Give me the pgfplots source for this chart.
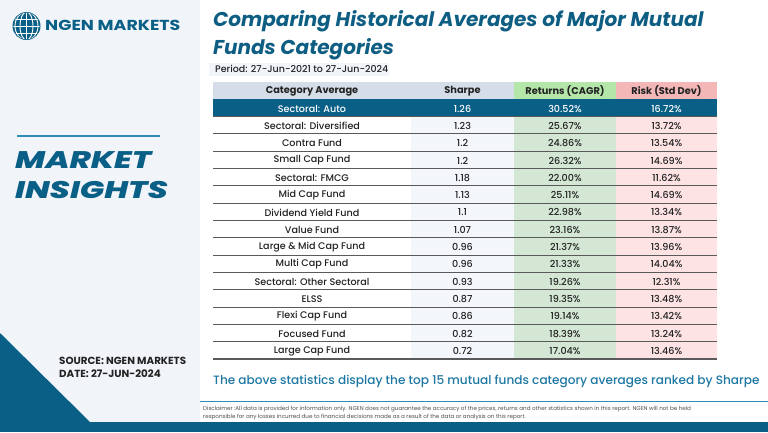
\documentclass[border=0pt]{standalone}
\usepackage{pgfplots}
\pgfplotsset{compat=1.18}
\usepackage{pgfplotstable}
\usepackage{graphicx}
\usepackage{fontspec}
\setmainfont{Poppins}
\newfontfamily\popmed{Poppins Medium}
\newfontfamily\popxb{Poppins ExtraBold Italic}
\definecolor{ngteal}{HTML}{0A5F86}
\definecolor{ngtitle}{HTML}{0E5E84}
\definecolor{ngcap}{HTML}{1E78A3}
\definecolor{ngline}{HTML}{2E8BB5}
\definecolor{leftbg}{HTML}{F1F5FA}
\definecolor{hdrgrey}{HTML}{D5DEE8}
\definecolor{hdrgreen}{HTML}{B4E6AA}
\definecolor{hdrpink}{HTML}{F3B7B8}
\definecolor{colsharpe}{HTML}{F3F6FB}
\definecolor{colret}{HTML}{D3E7D4}
\definecolor{colrisk}{HTML}{FDE3E4}
\definecolor{rowline}{HTML}{5A5A5A}
\definecolor{txt}{HTML}{222222}

\pgfplotstableread[col sep=comma]{
row,cat,sharpe,ret,risk
1,Sectoral: Auto,1.26,30.52,16.72
2,Sectoral: Diversified,1.23,25.67,13.72
3,Contra Fund,1.2,24.86,13.54
4,Small Cap Fund,1.2,26.32,14.69
5,Sectoral: FMCG,1.18,22.00,11.62
6,Mid Cap Fund,1.13,25.11,14.69
7,Dividend Yield Fund,1.1,22.98,13.34
8,Value Fund,1.07,23.16,13.87
9,Large \& Mid Cap Fund,0.96,21.37,13.96
10,Multi Cap Fund,0.96,21.33,14.04
11,Sectoral: Other Sectoral,0.93,19.26,12.31
12,ELSS,0.87,19.35,13.48
13,Flexi Cap Fund,0.86,19.14,13.42
14,Focused Fund,0.82,18.39,13.24
15,Large Cap Fund,0.72,17.04,13.46
}\fundtable

\begin{document}
\begin{tikzpicture}
\begin{axis}[
  at={(0pt,0pt)}, anchor=north west,
  scale only axis, width=768pt, height=432pt,
  xmin=0, xmax=768, ymin=0, ymax=432, y dir=reverse,
  axis lines=none, clip=false,
  every node near coord/.append style={anchor=center, text=txt, font=\popmed\fontsize{9.6}{11}\selectfont},
]
% backgrounds
\fill[white] (axis cs:0,0) rectangle (axis cs:768,432);
\fill[leftbg] (axis cs:0,0) rectangle (axis cs:200,422);
\fill[ngteal] (axis cs:0,333) -- (axis cs:90,422) -- (axis cs:0,422) -- cycle;
\fill[ngteal] (axis cs:0,422) rectangle (axis cs:768,432);
% logo
\fill[ngteal] (axis cs:26.5,26) circle[radius=14];
\begin{scope}
\clip (axis cs:26.5,26) circle[radius=13.2];
\draw[white, line width=0.9pt] (axis cs:26.5,26) ellipse[x radius=6.5, y radius=14];
\draw[white, line width=0.9pt] (axis cs:26.5,10) -- (axis cs:26.5,42);
\draw[white, line width=0.9pt] (axis cs:10,26) -- (axis cs:43,26);
\draw[white, line width=0.9pt] (axis cs:10,19) -- (axis cs:43,19);
\draw[white, line width=0.9pt] (axis cs:10,33) -- (axis cs:43,33);
\draw[white, line width=0.9pt] (axis cs:26.5,26) ellipse[x radius=11.5, y radius=14];
\end{scope}
\node[anchor=base west, inner sep=0pt, text=ngteal, font=\fontsize{14.5}{16}\selectfont\bfseries] at (axis cs:45,30.7) {\scalebox{1.2}[1]{NGEN MARKETS}};
% left panel
\draw[ngline, line width=1.5pt] (axis cs:17,136) -- (axis cs:160,136);
\node[anchor=base west, inner sep=0pt, text=ngteal, font=\popxb\fontsize{24}{28}\selectfont] at (axis cs:15,168.3) {\scalebox{1.34}[1]{MARKET}};
\node[anchor=base west, inner sep=0pt, text=ngteal, font=\popxb\fontsize{24}{28}\selectfont] at (axis cs:15,198.3) {\scalebox{1.34}[1]{INSIGHTS}};
\node[anchor=base west, inner sep=0pt, text=txt, font=\fontsize{10.3}{12}\selectfont\bfseries] at (axis cs:59,364.5) {SOURCE: NGEN MARKETS};
\node[anchor=base west, inner sep=0pt, text=txt, font=\fontsize{10.3}{12}\selectfont\bfseries] at (axis cs:59,377.7) {DATE: 27-JUN-2024};
% title
\node[anchor=base west, inner sep=0pt, text=ngtitle, font=\fontsize{20}{24}\selectfont\bfseries\itshape] at (axis cs:213,26.7) {Comparing Historical Averages of Major Mutual};
\node[anchor=base west, inner sep=0pt, text=ngtitle, font=\fontsize{20}{24}\selectfont\bfseries\itshape] at (axis cs:213,54) {Funds Categories};
\fill[leftbg] (axis cs:209,63) rectangle (axis cs:389,75.5);
\node[anchor=base west, inner sep=0pt, text=txt, font=\popmed\fontsize{9.5}{11}\selectfont] at (axis cs:215,72.5) {Period: 27-Jun-2021 to 27-Jun-2024};
% table backgrounds
\fill[hdrgrey] (axis cs:213,82) rectangle (axis cs:514,99.31);
\fill[hdrgreen] (axis cs:514,82) rectangle (axis cs:616,99.31);
\fill[hdrpink] (axis cs:616,82) rectangle (axis cs:717,99.31);
\fill[colsharpe] (axis cs:411,99.31) rectangle (axis cs:514,359);
\fill[colret] (axis cs:514,99.31) rectangle (axis cs:616,359);
\fill[colrisk] (axis cs:616,99.31) rectangle (axis cs:717,359);
\fill[ngteal] (axis cs:213,99.31) rectangle (axis cs:717,116.63);
\pgfplotsinvokeforeach{2,...,15}{
  \draw[rowline, line width=0.9pt] (axis cs:213,{82+17.3125*#1}) -- (axis cs:717,{82+17.3125*#1});
}
\draw[rowline, line width=0.9pt] (axis cs:213,116.63) -- (axis cs:717,116.63);
\draw[rowline, line width=1.1pt] (axis cs:213,359) -- (axis cs:717,359);
% header
\node[anchor=center, text=txt, font=\fontsize{9.8}{11}\selectfont\bfseries] at (axis cs:312,91.2) {Category Average};
\node[anchor=center, text=txt, font=\fontsize{9.8}{11}\selectfont\bfseries] at (axis cs:462.5,91.2) {Sharpe};
\node[anchor=center, text=txt, font=\fontsize{9.8}{11}\selectfont\bfseries] at (axis cs:565,91.2) {Returns (CAGR)};
\node[anchor=center, text=txt, font=\fontsize{9.8}{11}\selectfont\bfseries] at (axis cs:666.5,91.2) {Risk (Std Dev)};
% data (normal rows)
\addplot[draw=none, mark=none, point meta=explicit symbolic, nodes near coords, skip coords between index={0}{1}]
  table[x expr=312, y expr={82.6+17.3125*(\thisrow{row}+0.5)}, meta=cat]{\fundtable};
\addplot[draw=none, mark=none, point meta=explicit symbolic, nodes near coords, skip coords between index={0}{1}]
  table[x expr=462.5, y expr={82.6+17.3125*(\thisrow{row}+0.5)}, meta=sharpe]{\fundtable};
\addplot[draw=none, mark=none, point meta=explicit symbolic, nodes near coords={\pgfplotspointmeta\%}, skip coords between index={0}{1}]
  table[x expr=565, y expr={82.6+17.3125*(\thisrow{row}+0.5)}, meta=ret]{\fundtable};
\addplot[draw=none, mark=none, point meta=explicit symbolic, nodes near coords={\pgfplotspointmeta\%}, skip coords between index={0}{1}]
  table[x expr=666.5, y expr={82.6+17.3125*(\thisrow{row}+0.5)}, meta=risk]{\fundtable};
% highlighted row
\addplot[draw=none, mark=none, point meta=explicit symbolic, nodes near coords, skip coords between index={1}{15}, every node near coord/.append style={text=white}]
  table[x expr=312, y expr={82.6+17.3125*(\thisrow{row}+0.5)}, meta=cat]{\fundtable};
\addplot[draw=none, mark=none, point meta=explicit symbolic, nodes near coords, skip coords between index={1}{15}, every node near coord/.append style={text=white}]
  table[x expr=462.5, y expr={82.6+17.3125*(\thisrow{row}+0.5)}, meta=sharpe]{\fundtable};
\addplot[draw=none, mark=none, point meta=explicit symbolic, nodes near coords={\pgfplotspointmeta\%}, skip coords between index={1}{15}, every node near coord/.append style={text=white}]
  table[x expr=565, y expr={82.6+17.3125*(\thisrow{row}+0.5)}, meta=ret]{\fundtable};
\addplot[draw=none, mark=none, point meta=explicit symbolic, nodes near coords={\pgfplotspointmeta\%}, skip coords between index={1}{15}, every node near coord/.append style={text=white}]
  table[x expr=666.5, y expr={82.6+17.3125*(\thisrow{row}+0.5)}, meta=risk]{\fundtable};
% caption
\node[anchor=base west, inner sep=0pt, text=ngcap, font=\popmed\fontsize{12.1}{14}\selectfont] at (axis cs:213,384) {The above statistics display the top 15 mutual funds category averages ranked by Sharpe};
% disclaimer
\draw[ngline, line width=1pt] (axis cs:200,401) -- (axis cs:768,401);
\node[anchor=base west, inner sep=0pt, text=txt!80, font=\fontsize{5.6}{7}\selectfont] at (axis cs:203,410) {Disclaimer :All data is provided for information only. NGEN does not guarantee the accuracy of the prices, returns and other statistics shown in this report. NGEN will not be held};
\node[anchor=base west, inner sep=0pt, text=txt!80, font=\fontsize{5.6}{7}\selectfont] at (axis cs:203,418) {responsible for any losses incurred due to financial decisions made as a result of the data or analysis on this report.};
\end{axis}
\pgfresetboundingbox
\useasboundingbox (0pt,0pt) rectangle (768pt,-432pt);
\end{tikzpicture}
\end{document}
